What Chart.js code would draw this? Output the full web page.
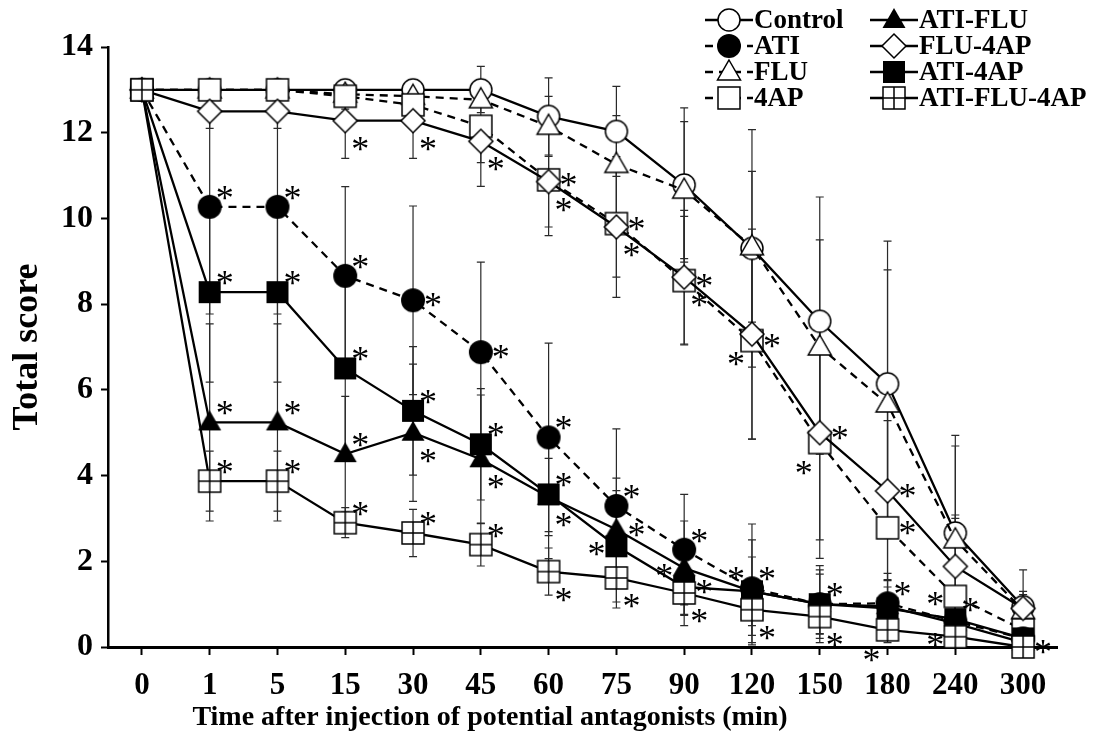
<!DOCTYPE html>
<html><head><meta charset="utf-8">
<script src="https://cdn.jsdelivr.net/npm/chart.js@4.4.1/dist/chart.umd.min.js"></script>
<style>html,body{margin:0;padding:0;background:#fff;}canvas{display:block;}</style>
</head><body>
<canvas id="c" width="1096" height="749" style="width:1096px;height:749px"></canvas>
<script>
// ---------- data ----------
const categories = ['0','1','5','15','30','45','60','75','90','120','150','180','240','300'];
const yTickValues = [0,2,4,6,8,10,12,14];
const xTitle = 'Time after injection of potential antagonists (min)';
const yTitle = 'Total score';
const seriesNames = ['Control','ATI','FLU','4AP','ATI-FLU','FLU-4AP','ATI-4AP','ATI-FLU-4AP'];

const control   = [13, 13,    13,    13,    13,    13,    12.38, 12.03, 10.78, 9.3,  7.6,  6.14, 2.66, 0.94];
const ati       = [13, 10.27, 10.27, 8.66,  8.09,  6.88,  4.89,  3.29,  2.27,  1.37, 1.0,  1.02, 0.6,  0.2];
const flu       = [13, 13,    13,    12.9,  12.85, 12.77, 12.15, 11.26, 10.66, 9.34, 7.0,  5.67, 2.5,  0.85];
const ap4       = [13, 13,    13,    12.85, 12.65, 12.15, 10.9,  9.88,  8.55,  7.15, 4.77, 2.78, 1.18, 0.4];
const atiFlu    = [13, 5.24,  5.24,  4.5,   5.0,   4.38,  3.5,   2.74,  1.84,  1.3,  1.0,  0.95, 0.55, 0.1];
const flu4ap    = [13, 12.5,  12.5,  12.28, 12.28, 11.8,  10.86, 9.8,   8.63,  7.3,  5.0,  3.64, 1.88, 0.9];
const ati4ap    = [13, 8.28,  8.28,  6.5,   5.51,  4.73,  3.56,  2.35,  1.4,   1.3,  1.0,  0.9,  0.65, 0.2];
const atiFlu4ap = [13, 3.87,  3.87,  2.9,   2.66,  2.39,  1.76,  1.61,  1.26,  0.87, 0.71, 0.4,  0.24, 0.0];

const controlSD   = [0, 0,   0,   0,    0,    0,   0.9,  1.05, 1.8,  2.77, 2.9, 3.33, 2.28, 0.86];
const atiSD       = [0, 2.5, 2.5, 2.08, 2.2,  2.1, 2.2,  1.8,  1.29, 1.5,  0.8, 0.7,  0.5,  0.3];
const fluSD       = [0, 0,   0,   0,    0.3,  0.3, 0.7,  1.14, 1.6,  1.76, 2.5, 3.13, 2.19, 0.37];
const ap4SD       = [0, 0,   0,   0.3,  0.4,  1.4, 1.1,  1.25, 1.5,  2.3,  2.7, 2.5,  1.82, 0.4];
const atiFluSD    = [0, 2.3, 2.3, 1.35, 1.6,  1.5, 0.9,  1.2,  1.1,  1.2,  0.9, 0.6,  0.4,  0.2];
const flu4apSD    = [0, 0.4, 0.4, 0.88, 0.88, 0.5, 1.26, 1.64, 1.56, 2.45, 2.5, 2.07, 1.2,  0.4];
const ati4apSD    = [0, 2.1, 2.1, 2.0,  1.5,  1.3, 1.5,  1.3,  0.9,  0.8,  0.7, 0.5,  0.4,  0.2];
const atiFlu4apSD = [0, 0.7, 0.7, 0.35, 0.55, 0.5, 0.55, 0.7,  0.5,  0.6,  0.4, 0.3,  0.2,  0];

// significance marks (*) : '' none, 'ur' upper-right, 'lr' lower-right, 'r' right, 'l' left, 'll' lower-left, 'ul' upper-left
const controlStars   = ['','','','','','','','','','','','','',''];
const atiStars       = ['','ur','ur','ur','r','r','ur','ur','ur','ur','','ur','',''];
const fluStars       = ['','','','','','','','','','','','','',''];
const ap4Stars       = ['','','','','','','r','r','r','r','ll','r','l',''];
const atiFluStars    = ['','ur','ur','ur','lr','lr','lr','r','l','ul','','','',''];
const flu4apStars    = ['','','','lr','lr','lr','lr','lr','lr','ll','r','r','',''];
const ati4apStars    = ['','ur','ur','ur','ur','ur','ur','l','r','','ur','','ur',''];
const atiFlu4apStars = ['','ur','ur','ur','ur','ur','lr','lr','lr','lr','lr','ll','l','r'];

// ---------- styles ----------
const FONT = "'Liberation Serif', 'Times New Roman', serif";
function marker(kind){
  const c = document.createElement('canvas'); c.width = 30; c.height = 30;
  const g = c.getContext('2d'); const m = 15;
  g.lineWidth = 1.5; g.strokeStyle = '#000'; g.fillStyle = '#fff';
  g.beginPath();
  if (kind === 'circleOpen' || kind === 'circleFilled') {
    g.arc(m, m, kind === 'circleOpen' ? 11 : 12, 0, Math.PI*2);
  } else if (kind === 'triOpen' || kind === 'triFilled') {
    g.moveTo(m, m-12); g.lineTo(m+11.5, m+8); g.lineTo(m-11.5, m+8); g.closePath();
  } else if (kind === 'diamond') {
    g.moveTo(m, m-12); g.lineTo(m+12, m); g.lineTo(m, m+12); g.lineTo(m-12, m); g.closePath();
  } else {
    g.rect(m-11, m-11, 22, 22);
  }
  if (kind.endsWith('Filled')) { g.fillStyle = '#000'; g.fill(); }
  else { g.fill(); g.stroke(); }
  if (kind === 'squareCross') {
    g.beginPath(); g.moveTo(m, m-11); g.lineTo(m, m+11); g.moveTo(m-11, m); g.lineTo(m+11, m); g.stroke();
  }
  return c;
}
const styleMap = {
  'Control':     {mk:'circleOpen',   dash:[],    order:8},
  'ATI':         {mk:'circleFilled', dash:[8,6], order:4},
  'FLU':         {mk:'triOpen',      dash:[8,6], order:7},
  '4AP':         {mk:'squareOpen',   dash:[8,6], order:6},
  'ATI-FLU':     {mk:'triFilled',    dash:[],    order:3},
  'FLU-4AP':     {mk:'diamond',      dash:[],    order:5},
  'ATI-4AP':     {mk:'squareFilled', dash:[],    order:2},
  'ATI-FLU-4AP': {mk:'squareCross',  dash:[],    order:1}
};
const values = [control, ati, flu, ap4, atiFlu, flu4ap, ati4ap, atiFlu4ap];
const sds    = [controlSD, atiSD, fluSD, ap4SD, atiFluSD, flu4apSD, ati4apSD, atiFlu4apSD];
const stars  = [controlStars, atiStars, fluStars, ap4Stars, atiFluStars, flu4apStars, ati4apStars, atiFlu4apStars];
const markers = seriesNames.map(n => marker(styleMap[n].mk));

const datasets = seriesNames.map((n, i) => ({
  label: n, data: values[i], sd: sds[i], stars: stars[i],
  borderColor: '#000', borderWidth: 2.3, borderDash: styleMap[n].dash,
  pointStyle: markers[i], pointRadius: 12, pointHoverRadius: 12,
  fill: false, tension: 0, order: styleMap[n].order, clip: false
}));

// ---------- plugins ----------
const errorBars = {
  id: 'errorBars',
  beforeDatasetsDraw(chart) {
    const ctx = chart.ctx, ys = chart.scales.y;
    ctx.save(); ctx.strokeStyle = '#2a2a2a'; ctx.lineWidth = 1.2; ctx.setLineDash([]);
    chart.data.datasets.forEach((ds, i) => {
      const meta = chart.getDatasetMeta(i);
      ds.data.forEach((v, j) => {
        const s = ds.sd[j]; if (!s) return;
        const x = meta.data[j].x;
        const t = ys.getPixelForValue(v + s), b = ys.getPixelForValue(Math.max(0.05, v - s));
        ctx.beginPath();
        ctx.moveTo(x, t); ctx.lineTo(x, b);
        ctx.moveTo(x-4, t); ctx.lineTo(x+4, t);
        ctx.moveTo(x-4, b); ctx.lineTo(x+4, b);
        ctx.stroke();
      });
    });
    ctx.restore();
  }
};
const starOffsets = {ur:[15,-17], lr:[15,20], r:[20,-3], l:[-20,0], ll:[-16,22], ul:[-16,-20]};
const starMarks = {
  id: 'starMarks',
  afterDatasetsDraw(chart) {
    const ctx = chart.ctx;
    ctx.save(); ctx.fillStyle = '#000'; ctx.font = '36px ' + FONT;
    ctx.textAlign = 'center'; ctx.textBaseline = 'alphabetic';
    chart.data.datasets.forEach((ds, i) => {
      const meta = chart.getDatasetMeta(i);
      ds.stars.forEach((code, j) => {
        if (!code) return;
        const p = meta.data[j], o = starOffsets[code];
        ctx.fillText('*', p.x + o[0], p.y + o[1] + 20);
      });
    });
    ctx.restore();
  }
};
const customLegend = {
  id: 'customLegend',
  afterDraw(chart) {
    const ctx = chart.ctx;
    ctx.save();
    const colX = [705, 870], rowY = [20, 46, 72, 98];
    chart.data.datasets.forEach((ds, i) => {
      const x = colX[Math.floor(i/4)], y = rowY[i%4];
      ctx.strokeStyle = '#000'; ctx.lineWidth = 2.3; ctx.setLineDash(ds.borderDash);
      ctx.beginPath(); ctx.moveTo(x, y); ctx.lineTo(x+48, y); ctx.stroke();
      ctx.setLineDash([]);
      const m = ds.pointStyle; ctx.drawImage(m, x+24-m.width/2, y-m.height/2);
      ctx.fillStyle = '#000'; ctx.font = 'bold 27px ' + FONT;
      ctx.textAlign = 'left'; ctx.textBaseline = 'middle';
      ctx.fillText(ds.label, x+49, y+1);
    });
    ctx.font = 'bold 28px ' + FONT; ctx.textAlign = 'center'; ctx.textBaseline = 'alphabetic';
    ctx.fillText(xTitle, 490, 725);
    ctx.restore();
  }
};

const tickFont = {family: FONT, weight: 'bold'};
new Chart(document.getElementById('c'), {
  type: 'line',
  data: {labels: categories, datasets},
  plugins: [errorBars, starMarks, customLegend],
  options: {
    responsive: false, animation: false, devicePixelRatio: 1,
    layout: {padding: {top: 47, right: 39, left: 0, bottom: 0}},
    plugins: {legend: {display: false}, tooltip: {enabled: false}},
    scales: {
      x: {
        type: 'category', offset: true,
        grid: {drawOnChartArea: false, offset: false, tickLength: 8, tickWidth: 2, tickColor: '#000'},
        border: {color: '#000', width: 3},
        ticks: {font: {...tickFont, size: 31}, color: '#000', padding: 12, maxRotation: 0, autoSkip: false},
        afterFit: s => { s.height = 102; }
      },
      y: {
        min: 0, max: 14,
        afterBuildTicks: s => { s.ticks = yTickValues.map(v => ({value: v})); },
        grid: {drawOnChartArea: false, tickLength: 7, tickWidth: 2, tickColor: '#000'},
        border: {color: '#000', width: 2.5},
        ticks: {font: {...tickFont, size: 32}, color: '#000', padding: 8},
        title: {display: true, text: yTitle, color: '#000', font: {...tickFont, size: 36}, padding: {top: 6, bottom: 0}},
        afterFit: s => { s.width = 108; }
      }
    }
  }
});
</script>
</body></html>
